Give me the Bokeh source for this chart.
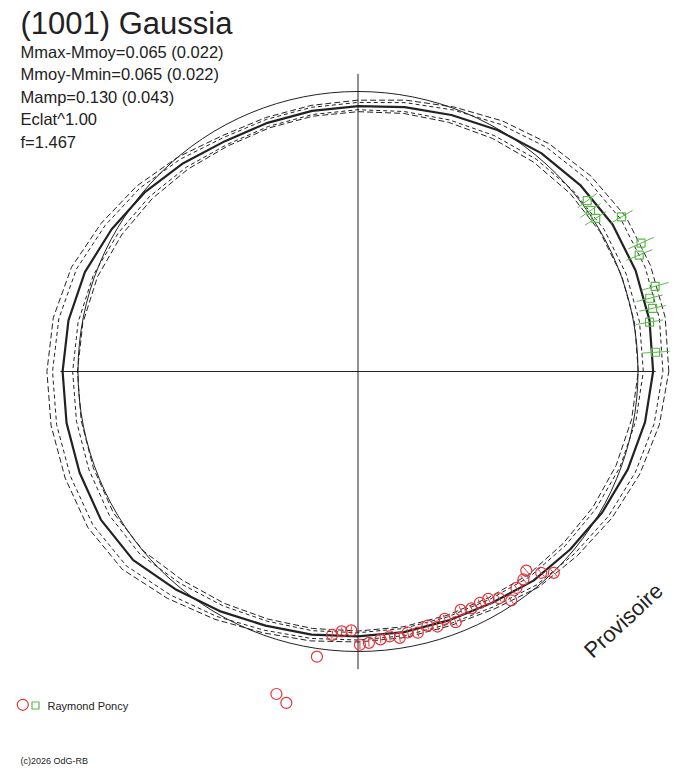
import numpy as np
from bokeh.plotting import figure
from bokeh.models import Range1d, Label
from bokeh.embed import file_html
from bokeh.resources import INLINE

# ---------------- data ----------------
title = "(1001) Gaussia"
info_lines = ["Mmax-Mmoy=0.065 (0.022)", "Mmoy-Mmin=0.065 (0.022)",
              "Mamp=0.130 (0.043)", "Eclat^1.00", "f=1.467"]
observer = "Raymond Poncy"
copyright_txt = "(c)2026 OdG-RB"
stamp = "Provisoire"

ref_radius = 1.0  # mean-magnitude circle

# model curve, sampled every 10 degrees of rotational phase
curve_phase = list(range(0, 360, 10))
r_mean = [1.054, 1.057, 1.055, 1.050, 1.036, 1.018, 0.996, 0.975, 0.959, 0.948,
          0.945, 0.945, 0.950, 0.971, 0.995, 1.016, 1.038, 1.050, 1.055, 1.057,
          1.058, 1.060, 1.048, 1.015, 0.988, 0.966, 0.954, 0.946, 0.945, 0.946,
          0.955, 0.975, 0.989, 1.007, 1.025, 1.041]
r_low2 = [1.001, 1.003, 1.002, 0.998, 0.989, 0.976, 0.961, 0.947, 0.936, 0.928,
          0.926, 0.926, 0.930, 0.944, 0.960, 0.975, 0.990, 0.998, 1.002, 1.004,
          1.006, 1.009, 0.999, 0.974, 0.956, 0.941, 0.932, 0.927, 0.926, 0.927,
          0.933, 0.947, 0.956, 0.969, 0.981, 0.992]
r_low1 = [1.019, 1.021, 1.019, 1.015, 1.004, 0.990, 0.973, 0.956, 0.943, 0.935,
          0.932, 0.932, 0.936, 0.953, 0.972, 0.989, 1.006, 1.015, 1.019, 1.021,
          1.023, 1.026, 1.016, 0.988, 0.966, 0.949, 0.940, 0.933, 0.932, 0.933,
          0.940, 0.956, 0.967, 0.981, 0.996, 1.008]
r_high1 = [1.089, 1.093, 1.091, 1.085, 1.068, 1.046, 1.019, 0.994, 0.975, 0.961,
           0.958, 0.958, 0.964, 0.989, 1.018, 1.043, 1.070, 1.085, 1.091, 1.093,
           1.093, 1.094, 1.080, 1.042, 1.010, 0.983, 0.968, 0.959, 0.958, 0.959,
           0.970, 0.994, 1.011, 1.033, 1.054, 1.074]
r_high2 = [1.110, 1.114, 1.111, 1.105, 1.086, 1.062, 1.033, 1.005, 0.984, 0.969,
           0.965, 0.965, 0.972, 1.000, 1.031, 1.059, 1.089, 1.105, 1.111, 1.113,
           1.113, 1.114, 1.099, 1.058, 1.022, 0.993, 0.977, 0.966, 0.965, 0.966,
           0.978, 1.005, 1.023, 1.047, 1.071, 1.093]

# session 1 (red circles): phase in degrees, radius, radial error
red_phase = [264.4, 266.4, 268.5, 270.4, 272.3, 274.8, 276.8, 278.9, 280.8, 282.9,
             285.3, 287.3, 289.3, 291.3, 293.3, 295.6, 297.8, 299.8, 301.9, 303.8,
             306.2, 308.5, 310.2, 312.3, 314.2, 261.8, 255.8, 257.8]
red_r = [0.945, 0.930, 0.925, 0.976, 0.970, 0.960, 0.953, 0.963, 0.949, 0.957,
         0.941, 0.954, 0.936, 0.961, 0.927, 0.938, 0.934, 0.936, 0.954, 0.984,
         0.958, 0.949, 0.931, 0.972, 1.003, 1.029, 1.188, 1.211]
red_err = [0.014, 0.015, 0.015, 0.016, 0.014, 0.014, 0.015, 0.014, 0.014, 0.014,
           0.014, 0.014, 0.014, 0.015, 0.014, 0.014, 0.014, 0.014, 0.014, 0.014,
           0.015, 0.016, 0.016, 0.016, 0.016, 0.0, 0.0, 0.0]

# session 2 (green squares)
green_phase = [36.7, 34.7, 32.8, 30.4, 24.4, 22.5, 16.0, 14.1, 12.1, 9.6, 3.7]
green_r = [1.021, 1.010, 1.010, 1.091, 1.110, 1.087, 1.104, 1.074, 1.076, 1.056, 1.065]
green_err = [0.043, 0.044, 0.045, 0.046, 0.050, 0.050, 0.050, 0.048, 0.048, 0.049, 0.050]

# ---------------- layout ----------------
W, H = 688, 768
PX = 280.0              # pixels per radius unit
CX, CY = 357.5, 371.0   # centre in canvas px (from left / from top)
AX = 1.063              # half-length of the cross axes

RED = "#e3343c"
GREEN = "#5bb84a"
INK = "#222222"
FONT = "Liberation Sans"


def polar(ph, r):
    th = np.radians(np.asarray(ph, dtype=float))
    r = np.asarray(r, dtype=float)
    return r * np.cos(th), r * np.sin(th)


def closed(vals):
    return list(vals) + [vals[0]]


p = figure(width=W, height=H, output_backend="svg", toolbar_location=None,
           x_axis_location=None, y_axis_location=None, min_border=0,
           x_range=Range1d(-CX / PX, (W - CX) / PX),
           y_range=Range1d(-(H - CY) / PX, CY / PX))
p.grid.visible = False
p.outline_line_color = None
p.background_fill_color = "white"
p.border_fill_color = "white"

# reference circle
p.circle(x=[0], y=[0], radius=ref_radius, fill_color=None,
         line_color=INK, line_width=1)

# envelope curves
ph_c = closed(curve_phase)
for arr, dash in [(r_low2, "6 3"), (r_low1, "4 3"), (r_high1, "4 3"), (r_high2, "6 3")]:
    x, y = polar(ph_c, closed(arr))
    p.line(x, y, line_color=INK, line_width=1, line_dash=dash)

# mean curve
x, y = polar(ph_c, closed(r_mean))
p.line(x, y, line_color=INK, line_width=2.2)

# cross axes
p.line([-AX, AX], [0, 0], line_color=INK, line_width=1)
p.line([0, 0], [-AX, AX], line_color=INK, line_width=1)

# red observations with radial error bars
rx, ry = polar(red_phase, red_r)
x0, y0 = polar(red_phase, np.array(red_r) - np.array(red_err))
x1, y1 = polar(red_phase, np.array(red_r) + np.array(red_err))
p.segment(x0, y0, x1, y1, line_color=RED, line_width=1)
p.scatter(rx, ry, marker="circle", size=11, fill_color=None,
          line_color=RED, line_width=1.2)

# green observations with radial error bars
gx, gy = polar(green_phase, green_r)
x0, y0 = polar(green_phase, np.array(green_r) - np.array(green_err))
x1, y1 = polar(green_phase, np.array(green_r) + np.array(green_err))
p.segment(x0, y0, x1, y1, line_color=GREEN, line_width=1)
p.scatter(gx, gy, marker="square", size=8, fill_color=None,
          line_color=GREEN, line_width=1.2)


# legend markers (placed in canvas pixels)
def cpx(xc, yc):
    return [(xc - CX) / PX], [(CY - yc) / PX]


lx, ly = cpx(22.3, 704.3)
p.scatter(lx, ly, marker="circle", size=11, fill_color=None, line_color=RED, line_width=1.2)
lx, ly = cpx(35.0, 705.0)
p.scatter(lx, ly, marker="square", size=7, fill_color=None, line_color=GREEN, line_width=1.2)


def label(text, x, y_top, size, **kw):
    p.add_layout(Label(x=x, y=H - y_top, x_units="screen", y_units="screen",
                       text=text, text_font=FONT, text_font_size=size,
                       text_color=INK, **kw))


label(title, 20, 23, "31px", text_baseline="alphabetic")
for i, t in enumerate(info_lines):
    label(t, 20, 51 + 22.6 * i, "16.5px", text_baseline="alphabetic")
label(observer, 47, 705, "11px", text_baseline="alphabetic")
label(copyright_txt, 20, 760, "9px", text_baseline="alphabetic")
label(stamp, 623, 620, "22px", text_align="center", text_baseline="middle", angle=0.75)

open("out.html", "w").write(file_html(p, INLINE))
